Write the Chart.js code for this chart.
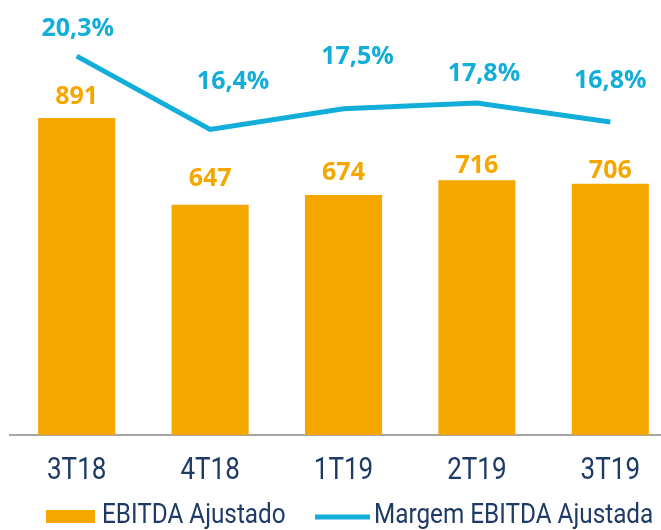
<!DOCTYPE html>
<html>
<head>
<meta charset="utf-8">
<script src="https://cdn.jsdelivr.net/npm/chart.js@4"></script>
<style>
  html, body { margin: 0; padding: 0; background: #fff; overflow: hidden; }
  #wrap { width: 661px; height: 530px; overflow: hidden; position: relative; }
  #box { position: absolute; left: 0; top: 0; width: 680px; height: 530px; }
</style>
</head>
<body>
<div id="wrap"><div id="box"><canvas id="chart"></canvas></div></div>
<script>
// dati
const periodi = ["3T18", "4T18", "1T19", "2T19", "3T19"];
const ebitdaAjustado = [891, 647, 674, 716, 706];
const margemEbitda = [20.3, 16.4, 17.5, 17.8, 16.8];

const ARANCIO = "#F5A700";
const BLU = "#12ADD9";
const NAVY = "#1E3A66";

// spostamenti delle etichette come nel grafico originale
const offBarre = [21, 26, 22, 14, 13];
const offLineaY = [27, 48, 52, 29, 41];
const offLineaX = [1, 23, 14, 7, 0];

// testo "condensato": Roboto schiacciato in orizzontale
function testoStretto(ctx, txt, x, y, sx, align) {
    ctx.save();
    ctx.translate(x, y);
    ctx.scale(sx, 1);
    ctx.textAlign = align;
    ctx.fillText(txt, 0, 0);
    ctx.restore();
}

const etichette = {
    id: "etichette",
    afterDatasetsDraw(chart) {
        const ctx = chart.ctx;
        ctx.save();
        ctx.textAlign = "center";
        ctx.textBaseline = "middle";
        ctx.font = "700 25px 'Open Sans'";

        chart.getDatasetMeta(0).data.forEach((bar, i) => {
            ctx.fillStyle = ARANCIO;
            ctx.fillText(ebitdaAjustado[i], bar.x, bar.y - offBarre[i]);
        });
        chart.getDatasetMeta(1).data.forEach((pt, i) => {
            ctx.fillStyle = BLU;
            const txt = margemEbitda[i].toFixed(1).replace(".", ",") + "%";
            ctx.fillText(txt, pt.x + offLineaX[i], pt.y - offLineaY[i]);
        });
        ctx.restore();
    }
};

// etichette asse x e legenda disegnate a mano
const asseELegenda = {
    id: "asseELegenda",
    afterDraw(chart) {
        const ctx = chart.ctx;
        const sx = chart.scales.x;
        ctx.save();
        ctx.textBaseline = "alphabetic";
        ctx.fillStyle = NAVY;
        ctx.font = "31px Roboto";
        periodi.forEach((p, i) => {
            testoStretto(ctx, p, sx.getPixelForTick(i), 479, 0.84, "center");
        });

        ctx.font = "27px Roboto";
        ctx.fillStyle = ARANCIO;
        ctx.fillRect(46, 510, 49, 13);
        ctx.fillStyle = NAVY;
        testoStretto(ctx, chart.data.datasets[0].label, 102, 523, 0.9, "left");

        ctx.strokeStyle = BLU;
        ctx.lineWidth = 5;
        ctx.beginPath();
        ctx.moveTo(315, 517);
        ctx.lineTo(370, 517);
        ctx.stroke();
        testoStretto(ctx, chart.data.datasets[1].label, 374, 523, 0.9, "left");
        ctx.restore();
    }
};

const ctx = document.getElementById("chart").getContext("2d");

new Chart(ctx, {
    data: {
        labels: periodi,
        datasets: [
            {
                type: "bar",
                label: "EBITDA Ajustado",
                data: ebitdaAjustado,
                backgroundColor: ARANCIO,
                yAxisID: "y",
                categoryPercentage: 1,
                barPercentage: 0.578,
                order: 2
            },
            {
                type: "line",
                label: "Margem EBITDA Ajustada",
                data: margemEbitda,
                borderColor: BLU,
                borderWidth: 5,
                borderCapStyle: "butt",
                borderJoinStyle: "miter",
                pointRadius: 0,
                tension: 0,
                yAxisID: "y1",
                clip: false,
                order: 1
            }
        ]
    },
    options: {
        responsive: true,
        maintainAspectRatio: false,
        animation: false,
        layout: { padding: { left: 10, right: 3, top: 20, bottom: 0 } },
        plugins: {
            legend: { display: false },
            tooltip: { enabled: false }
        },
        scales: {
            x: {
                grid: { display: false },
                border: { display: true, color: "#A6A6A6", width: 2 },
                ticks: { display: false },
                afterFit(scale) { scale.height = 95; }
            },
            y: { display: false, min: 0, max: 1166 },
            y1: { display: false, min: 0.15, max: 22.22 }
        }
    },
    plugins: [etichette, asseELegenda]
});
</script>
</body>
</html>
